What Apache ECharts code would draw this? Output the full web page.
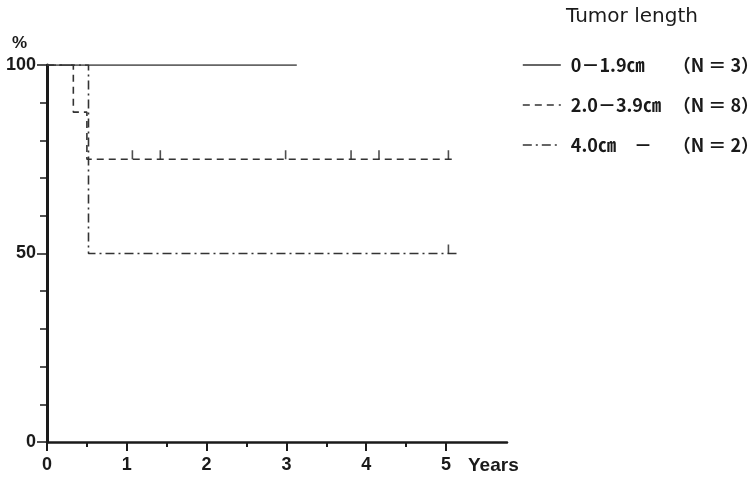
<!DOCTYPE html>
<html>
<head>
<meta charset="utf-8">
<script src="https://cdn.jsdelivr.net/npm/echarts@6/dist/echarts.min.js"></script>
<style>
html,body{margin:0;padding:0;background:#fff;}
#chart{width:754px;height:477px;}
</style>
</head>
<body>
<div id="chart"></div>
<script>
// ---- data ----
const seriesNames = ['0－1.9㎝ (N=3)', '2.0－3.9㎝ (N=8)', '4.0㎝ － (N=2)'];
const legendMain = ['0－1.9㎝', '2.0－3.9㎝', '4.0㎝　－'];
const legendN = ['（N ＝ 3）', '（N ＝ 8）', '（N ＝ 2）'];

const solidTimes = [0, 3.13];
const solidSurv = [100, 100];
const dashTimes = [0, 0.33, 0.50, 5.13];
const dashSurv = [100, 87.5, 75, 75];
const dashDotTimes = [0, 0.52, 5.18];
const dashDotSurv = [100, 50, 50];

const dashCensorTimes = [1.07, 1.42, 2.99, 3.81, 4.16, 5.03];
const dashCensorSurv = [75, 75, 75, 75, 75, 75];
const dashDotCensorTimes = [5.03];
const dashDotCensorSurv = [50];

const xMajorTicks = [0, 1, 2, 3, 4, 5];
const xMinorTicks = [0.5, 1.5, 2.5, 3.5, 4.5];
const xMax = 5.764;
const yMin = 0, yMax = 100, yInterval = 50;

// ---- helpers ----
const zip = (a, b) => a.map((v, i) => [v, b[i]]);
const ink = '#1a1a1a';
const latin = '"Liberation Sans", Arial, sans-serif';
const cjk = '"Noto Sans CJK JP", sans-serif';

const chart = echarts.init(document.getElementById('chart'), null, {renderer: 'canvas'});

const lineBase = {
  type: 'line', step: 'end', symbol: 'none', showSymbol: false,
  xAxisIndex: 0, yAxisIndex: 0, animation: false, z: 3
};
const censorBase = {
  type: 'scatter', symbol: 'rect', symbolSize: [1.6, 9], symbolOffset: [0, -4.5],
  itemStyle: {color: '#222'}, animation: false, silent: true, z: 4
};

const option = {
  backgroundColor: '#fff',
  animation: false,
  grid: {left: 47, top: 65, width: 460, height: 377, containLabel: false},
  legend: {
    orient: 'vertical', left: 517, top: 51,
    itemWidth: 38, itemHeight: 18, itemGap: 22,
    data: seriesNames,
    selectedMode: false,
    lineStyle: {width: 1.6},
    itemStyle: {color: 'rgba(0,0,0,0)', borderWidth: 0, opacity: 0},
    formatter: function (name) {
      const i = seriesNames.indexOf(name);
      return '{a|' + legendMain[i] + '}{b|' + legendN[i] + '}';
    },
    textStyle: {
      color: ink,
      rich: {
        a: {fontFamily: cjk, fontSize: 18, fontWeight: 'bold', color: ink, width: 102, padding: [0, 0, 0, 5], lineHeight: 20},
        b: {fontFamily: cjk, fontSize: 18, fontWeight: 'bold', color: ink, lineHeight: 20}
      }
    }
  },
  xAxis: [{
    type: 'value', min: 0, max: xMax, position: 'bottom',
    axisLine: {show: true, onZero: false, lineStyle: {color: ink, width: 2.5}},
    axisTick: {show: true, customValues: xMajorTicks, length: 9, lineStyle: {color: ink, width: 2}},
    axisLabel: {show: true, customValues: xMajorTicks, margin: 14, color: ink, fontSize: 18, fontWeight: 'bold', fontFamily: latin},
    splitLine: {show: false}
  }, {
    type: 'value', min: 0, max: xMax, position: 'bottom',
    axisLine: {show: false, onZero: false},
    axisTick: {show: true, customValues: xMinorTicks, length: 5, lineStyle: {color: ink, width: 2}},
    axisLabel: {show: false},
    splitLine: {show: false}
  }],
  yAxis: {
    type: 'value', min: yMin, max: yMax, interval: yInterval,
    axisLine: {show: true, onZero: false, lineStyle: {color: ink, width: 3}},
    axisTick: {show: true, length: 10, lineStyle: {color: ink, width: 1.5}},
    minorTick: {show: true, splitNumber: 5, length: 7, lineStyle: {color: ink, width: 1.5}},
    axisLabel: {margin: 11, color: ink, fontSize: 18, fontWeight: 'bold', fontFamily: latin},
    splitLine: {show: false}
  },
  graphic: [
    {type: 'text', left: 12, top: 35, style: {text: '%', fontSize: 17, fontWeight: 'bold', fontFamily: latin, fill: ink}},
    {type: 'text', left: 468, top: 456, style: {text: 'Years', fontSize: 19, fontWeight: 'bold', fontFamily: latin, fill: ink}},
    {type: 'text', left: 566, top: 7, style: {text: 'Tumor length', fontSize: 20, fontFamily: '"DejaVu Sans", sans-serif', fill: ink}}
  ],
  series: [
    Object.assign({}, lineBase, {
      name: seriesNames[0], data: zip(solidTimes, solidSurv),
      lineStyle: {color: '#333', width: 1.6, type: 'solid'}, itemStyle: {color: '#333'}
    }),
    Object.assign({}, lineBase, {
      name: seriesNames[1], data: zip(dashTimes, dashSurv),
      lineStyle: {color: '#333', width: 1.6, type: [7, 5]}, itemStyle: {color: '#333'}
    }),
    Object.assign({}, lineBase, {
      name: seriesNames[2], data: zip(dashDotTimes, dashDotSurv),
      lineStyle: {color: '#333', width: 1.6, type: [9, 4, 2, 4]}, itemStyle: {color: '#333'}
    }),
    Object.assign({}, censorBase, {name: 'c1', data: zip(dashCensorTimes, dashCensorSurv)}),
    Object.assign({}, censorBase, {name: 'c2', data: zip(dashDotCensorTimes, dashDotCensorSurv)})
  ]
};
chart.setOption(option);
</script>
</body>
</html>
